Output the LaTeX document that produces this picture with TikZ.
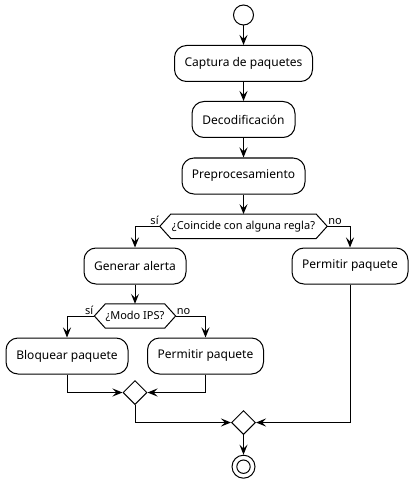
\documentclass[tikz,border=0pt]{standalone}
\usepackage{fontspec}
\setmainfont{Noto Sans}
\usetikzlibrary{arrows.meta,shapes.geometric}
\tikzset{
  arr/.style={draw=black, line width=1pt, -{Stealth[length=10pt,width=8pt,inset=4pt]}},
  plain/.style={draw=black, line width=1pt},
  actbox/.style={draw=black, line width=1pt, fill=white, rounded corners=12pt, minimum height=36pt, inner sep=0pt, font=\fontsize{12}{14}\selectfont},
  hexlabel/.style={inner sep=0pt, minimum height=24pt, font=\fontsize{11}{13}\selectfont},
  branchlbl/.style={inner sep=1pt, font=\fontsize{11}{13}\selectfont},
  merge/.style={diamond, draw=black, line width=1pt, fill=white, aspect=1, inner sep=0pt, minimum width=24pt, minimum height=24pt},
}
\begin{document}
\begin{tikzpicture}[x=1pt,y=-1pt]
\useasboundingbox[fill=white] (0,0) rectangle (413,481);
% start
\node[circle, draw=black, line width=1pt, minimum size=20pt, inner sep=0pt] (start) at (243.5,15) {};
% actions
\node[actbox, minimum width=138pt] (cap) at (243.5,63.5) {Captura de paquetes};
\node[actbox, minimum width=103pt] (dec) at (243.5,119.5) {Decodificación};
\node[actbox, minimum width=123pt] (pre) at (243.5,176) {Preprocesamiento};
% hexagon 1
\node[hexlabel, minimum width=145pt] (h1) at (243.5,226.3) {¿Coincide con alguna regla?};
\coordinate (h1w) at ([xshift=-11pt]h1.west);
\coordinate (h1e) at ([xshift=11pt]h1.east);
\draw[plain] (h1.north west) -- (h1.north east) -- (h1e) -- (h1.south east) -- (h1.south west) -- (h1w) -- cycle;
\node[branchlbl, anchor=south east] (si1) at (h1w) {sí};
\node[branchlbl, anchor=south west] (no1) at (h1e) {no};
% branch actions
\node[actbox, minimum width=102pt] (gen) at (135,266) {Generar alerta};
\node[actbox, minimum width=116pt] (pr) at (350,266) {Permitir paquete};
% hexagon 2
\node[hexlabel, minimum width=58pt] (h2) at (135,316) {¿Modo IPS?};
\coordinate (h2w) at ([xshift=-11pt]h2.west);
\coordinate (h2e) at ([xshift=11pt]h2.east);
\draw[plain] (h2.north west) -- (h2.north east) -- (h2e) -- (h2.south east) -- (h2.south west) -- (h2w) -- cycle;
\node[branchlbl, anchor=south east] (si2) at (h2w) {sí};
\node[branchlbl, anchor=south west] (no2) at (h2e) {no};
\node[actbox, minimum width=122pt] (blq) at (67,356) {Bloquear paquete};
\node[actbox, minimum width=116pt] (pm) at (205.5,356) {Permitir paquete};
% merges
\node[merge] (m1) at (135,392.5) {};
\node[merge] (m2) at (243.5,422.5) {};
% end
\node[circle, draw=black, line width=1pt, minimum size=23pt, inner sep=0pt] (end) at (243.5,466.7) {};
\draw[plain] (end.center) circle[radius=6.7pt];
% connectors
\draw[arr] (start) -- (cap);
\draw[arr] (cap) -- (dec);
\draw[arr] (dec) -- (pre);
\draw[arr] (pre) -- (h1.north);
\draw[arr] (h1w) -| (gen.north);
\draw[arr] (h1e) -| (pr.north);
\draw[arr] (gen) -- (h2.north);
\draw[arr] (h2w) -| (blq.north);
\draw[arr] (h2e) -| (pm.north);
\draw[arr] (blq.south) |- (m1.west);
\draw[arr] (pm.south) |- (m1.east);
\draw[arr] (m1.south) |- (m2.west);
\draw[arr] (pr.south) |- (m2.east);
\draw[arr] (m2.south) -- (end.north);
\end{tikzpicture}
\end{document}
